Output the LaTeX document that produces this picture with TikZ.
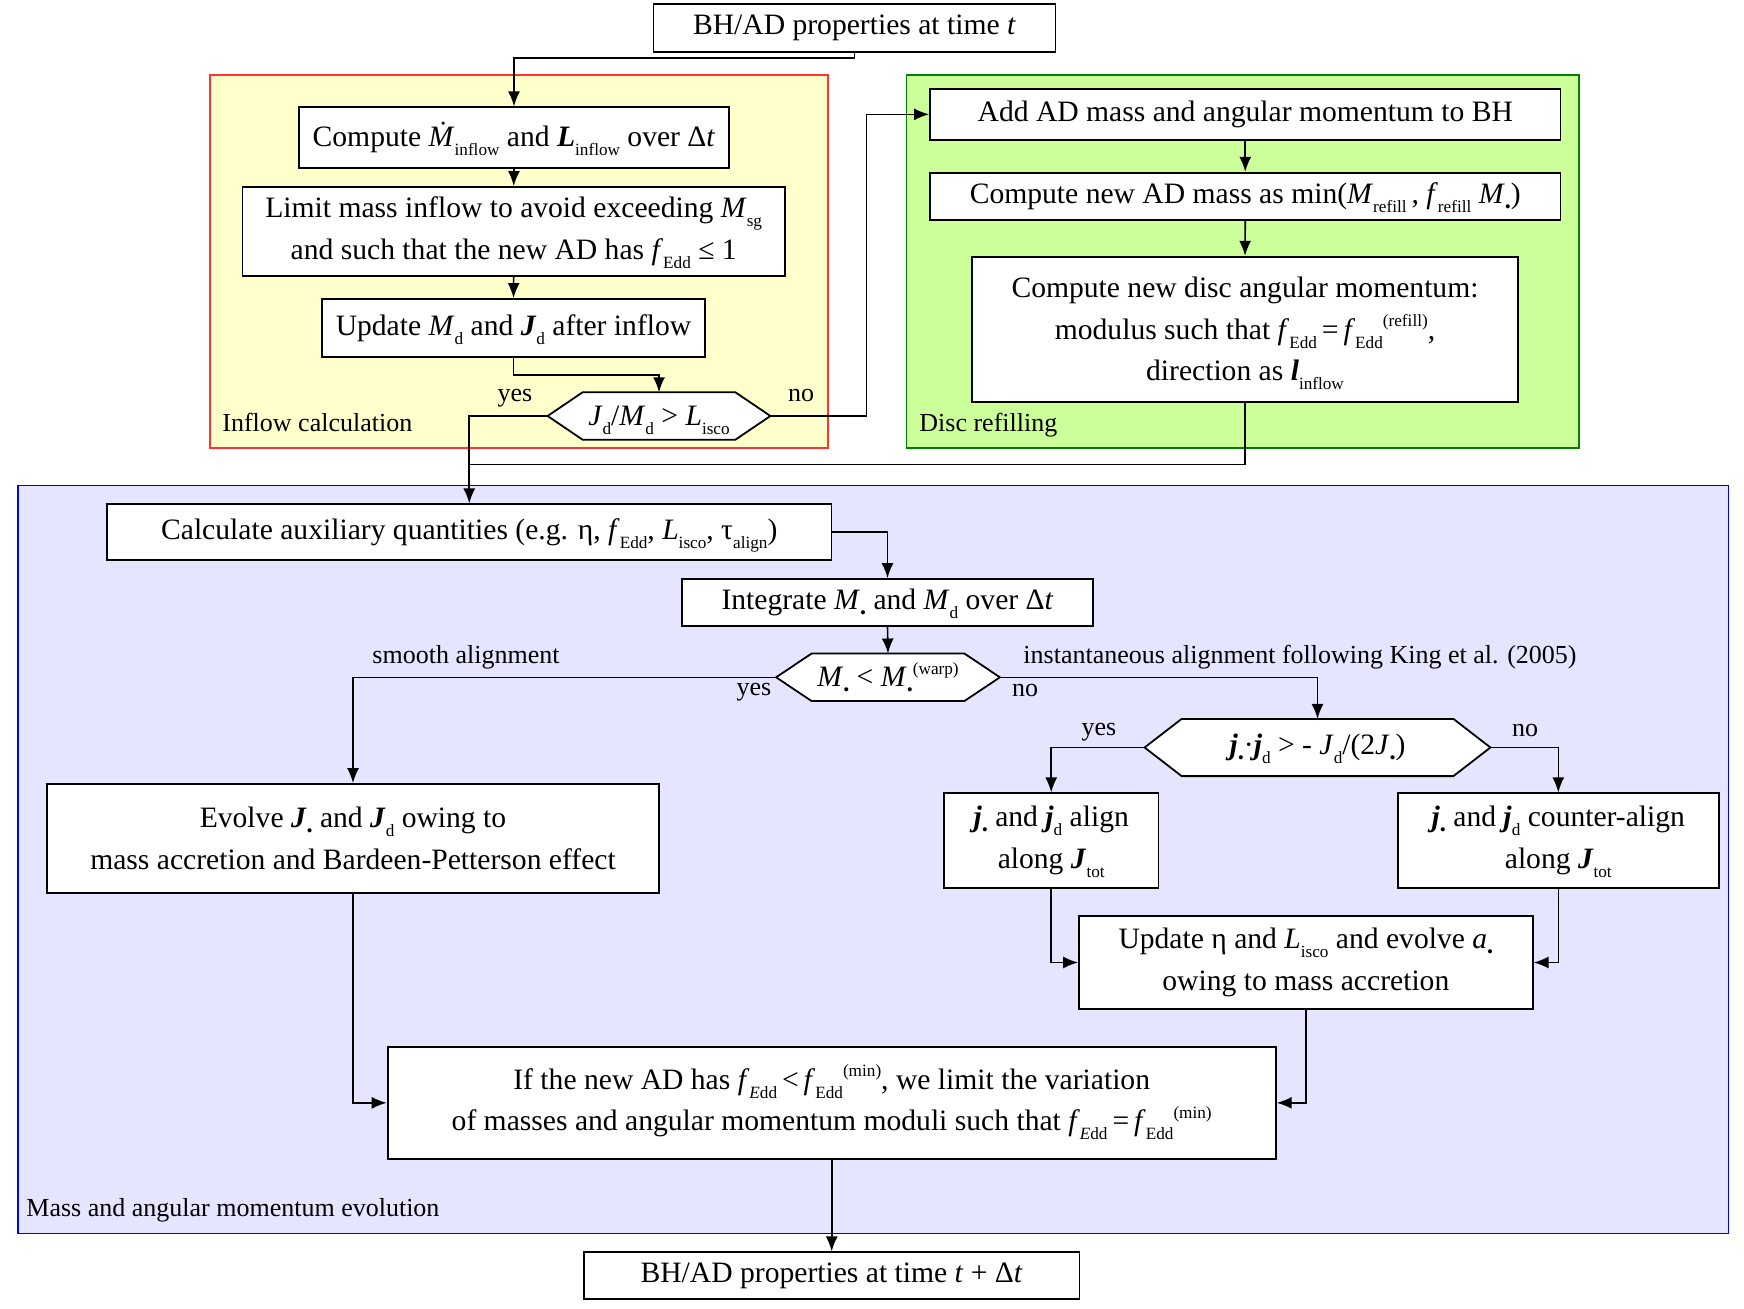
\documentclass[tikz,border=0pt]{standalone}
\usepackage{fontspec}
\setmainfont{Liberation Serif}
\usetikzlibrary{arrows.meta,calc}
\pgfdeclarelayer{background}
\pgfdeclarelayer{hexlayer}
\pgfsetlayers{background,hexlayer,main}
\newcommand\mysub[1]{\raisebox{-0.3em}[0pt][0pt]{\fontsize{8.6}{8.6}\selectfont #1}}
\newcommand\mysup[1]{\raisebox{0.42em}[0pt][0pt]{\fontsize{8.6}{8.6}\selectfont #1}}
\newcommand\myvec[1]{\textbf{\textit{#1}}}
\newcommand\myvar[1]{\textit{#1}}
\newcommand\bfnt{\fontsize{14.8}{20.7}\selectfont}
\newcommand\lfnt{\fontsize{13}{16}\selectfont}
\definecolor{yfill}{RGB}{255,255,204}
\definecolor{ydraw}{RGB}{255,51,51}
\definecolor{gfill}{RGB}{204,255,153}
\definecolor{gdraw}{RGB}{0,128,0}
\definecolor{bfill}{RGB}{229,229,255}
\definecolor{bdraw}{RGB}{0,0,255}
\newcommand\hexof[2]{%
  \coordinate (#1-l) at ([xshift=-#2]#1.west);
  \coordinate (#1-r) at ([xshift=#2]#1.east);
  \begin{pgfonlayer}{hexlayer}
    \draw[hexline] (#1.north west) -- (#1.north east) -- (#1-r) -- (#1.south east) -- (#1.south west) -- (#1-l) -- cycle;
  \end{pgfonlayer}}
\tikzset{
  box/.style={draw, fill=white, line width=0.9pt, align=center, inner sep=0pt, font=\bfnt},
  hexnode/.style={align=center, inner sep=0pt, font=\bfnt},
  hexline/.style={draw, fill=white, line width=0.9pt},
  arr/.style={line width=0.8pt, -{Latex[length=7.5pt,width=6pt]}},
  conn/.style={line width=0.8pt},
  lbl/.style={font=\lfnt, inner sep=0pt},
  cont/.style={line width=0.8pt},
}
\begin{document}
\begin{tikzpicture}[x=0.5pt,y=-0.5pt]
\useasboundingbox (0,0) rectangle (1744,1309);
% containers
\begin{pgfonlayer}{background}
  \path[cont, draw=ydraw, fill=yfill] (210,75) rectangle (828,448.3);
  \path[cont, draw=gdraw, fill=gfill] (906.5,75) rectangle (1579,448.3);
  \path[cont, draw=bdraw, fill=bfill] (18,485.7) rectangle (1728.5,1233.3);
\end{pgfonlayer}
\node[lbl, anchor=base west] (lin) at (222,432) {Inflow calculation};
\node[lbl, anchor=base west] (ldr) at (919,432) {Disc refilling};
\node[lbl, anchor=base west] (lme) at (26,1216) {Mass and angular momentum evolution};

% boxes
\node[box, minimum width=201pt, minimum height=23.85pt] (top) at (854.5,27.9) {BH/AD properties at time \myvar{t}};
\node[box, minimum width=215pt, minimum height=30.2pt] (c1) at (514,137.5) {Compute \myvar{\.{M}}\mysub{inflow} and \myvec{L}\mysub{inflow} over Δ\myvar{t}};
\node[box, minimum width=271.25pt, minimum height=44.35pt] (c2) at (513.7,231.3) {Limit mass inflow to avoid exceeding \myvar{M}\mysub{sg}\\and such that the new AD has \myvar{f}\mysub{Edd} ≤ 1};
\node[box, minimum width=191.5pt, minimum height=29pt] (c3) at (513.5,328) {Update \myvar{M}\mysub{d} and \myvec{J}\mysub{d} after inflow};
\node[hexnode, minimum width=76pt, minimum height=23.3pt] (d1) at (659,416) {\myvar{J}\mysub{d}/\myvar{M}\mysub{d} > \myvar{L}\mysub{isco}};
\hexof{d1}{17.5pt}

\node[box, minimum width=315.25pt, minimum height=25.65pt] (add) at (1245.25,114.35) {Add AD mass and angular momentum to BH};
\node[box, minimum width=315.25pt, minimum height=23.5pt] (c5) at (1245.25,196.2) {Compute new AD mass as min(\myvar{M}\mysub{refill}\,, \myvar{f}\mysub{refill} \myvar{M}\mysub{•})};
\node[box, minimum width=273pt, minimum height=72.5pt] (disc) at (1245,329.2) {Compute new disc angular momentum:\\modulus such that \myvar{f}\mysub{Edd}\,=\,\myvar{f}\mysub{Edd}\mysup{(refill)},\\direction as \myvec{l}\mysub{inflow}};

\node[box, minimum width=362.25pt, minimum height=28pt] (calc) at (469.25,532.3) {Calculate auxiliary quantities (e.g. η, \myvar{f}\mysub{Edd}, \myvar{L}\mysub{isco}, τ\mysub{align})};
\node[box, minimum width=205.5pt, minimum height=23.5pt] (integ) at (887.5,602.5) {Integrate \myvar{M}\mysub{•} and \myvar{M}\mysub{d} over Δ\myvar{t}};
\node[hexnode, minimum width=76pt, minimum height=23.35pt] (d2) at (888,677.3) {\myvar{M}\mysub{•} < \myvar{M}\mysub{•}\mysup{(warp)}};
\hexof{d2}{17.75pt}
\node[box, minimum width=306pt, minimum height=54.35pt] (evolve) at (353,838.3) {Evolve \myvec{J}\mysub{•} and \myvec{J}\mysub{d} owing to\\mass accretion and Bardeen-Petterson effect};
\node[hexnode, minimum width=135.5pt, minimum height=28.2pt] (d3) at (1317.5,747.5) {\myvec{j}\mysub{•}·\myvec{j}\mysub{d} > - \myvar{J}\mysub{d}/(2\myvar{J}\mysub{•})};
\hexof{d3}{18.5pt}
\node[box, minimum width=107.2pt, minimum height=47.2pt] (align) at (1051.2,840.5) {\myvec{j}\mysub{•} and \myvec{j}\mysub{d} align\\along \myvec{J}\mysub{tot}};
\node[box, minimum width=160.7pt, minimum height=47.2pt] (counter) at (1558.3,840.5) {\myvec{j}\mysub{•} and \myvec{j}\mysub{d} counter-align\\along \myvec{J}\mysub{tot}};
\node[box, minimum width=226.85pt, minimum height=46.8pt] (upd) at (1305.85,962.5) {Update η and \myvar{L}\mysub{isco} and evolve \myvar{a}\mysub{•}\\owing to mass accretion};
\node[box, minimum width=444.1pt, minimum height=56.15pt] (ifb) at (831.7,1102.85) {If the new AD has \myvar{f}\mysub{\myvar{E}dd}\,<\,\myvar{f}\mysub{Edd}\mysup{(min)}, we limit the variation\\of masses and angular momentum moduli such that \myvar{f}\mysub{\myvar{E}dd}\,=\,\myvar{f}\mysub{Edd}\mysup{(min)}};
\node[box, minimum width=247.8pt, minimum height=23.35pt] (final) at (831.7,1275.65) {BH/AD properties at time \myvar{t} + Δ\myvar{t}};

% labels
\node[lbl, anchor=base] (y1) at (515,401.7) {yes};
\node[lbl, anchor=base] (n1) at (801,401.7) {no};
\node[lbl, anchor=base] (sa) at (466,663.3) {smooth alignment};
\node[lbl, anchor=base] (ia) at (1300,663.3) {instantaneous alignment following King et al. (2005)};
\node[lbl, anchor=base] (y2) at (754,695) {yes};
\node[lbl, anchor=base] (n2) at (1025,696) {no};
\node[lbl, anchor=base] (y3) at (1099,735) {yes};
\node[lbl, anchor=base] (n3) at (1525,736) {no};

% connectors
\coordinate (k1) at (854.5,58.3);
\draw[arr] (top.south) -- (k1) -| (c1.north);
\draw[arr] (c1.south) -- (c2.north);
\draw[arr] (c2.south) -- (c3.north);
\draw[arr] (c3.south) -- ++(0,17) -| (d1.north);
\draw[arr] (d1-l) -| (calc.north);
\draw[arr] (d1-r) -- ++(96,0) |- (add.west);
\draw[arr] (add.south) -- (c5.north);
\draw[arr] (c5.south) -- (disc.north);
\coordinate (merge) at (469.25,464.7);
\draw[conn] (disc.south) |- (merge);
\draw[arr] (calc.east) -| (integ.north);
\draw[arr] (integ.south) -- (d2.north);
\draw[arr] (d2-l) -| (evolve.north);
\draw[arr] (d2-r) -| (d3.north);
\draw[arr] (d3-l) -| (align.north);
\draw[arr] (d3-r) -| (counter.north);
\draw[arr] (align.south) |- (upd.west);
\draw[arr] (counter.south) |- (upd.east);
\draw[arr] (evolve.south) |- (ifb.west);
\draw[arr] (upd.south) |- (ifb.east);
\draw[arr] (ifb.south) -- (final.north);
\end{tikzpicture}
\end{document}
